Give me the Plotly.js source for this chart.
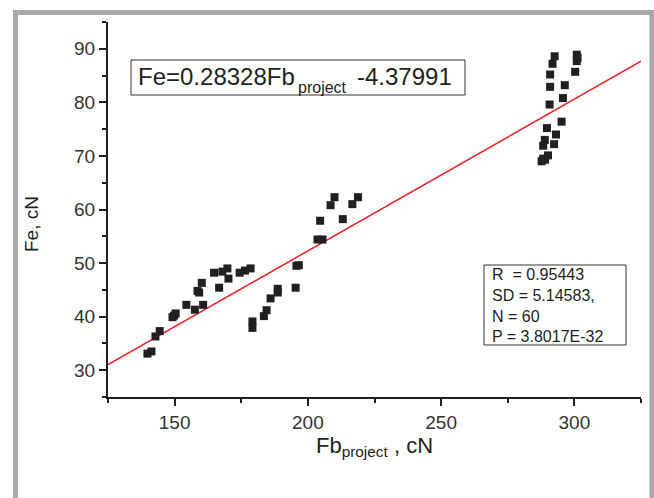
<!DOCTYPE html>
<html>
<head>
<meta charset="utf-8">
<script src="https://cdn.plot.ly/plotly-3.0.1.min.js"></script>
<style>
html,body{margin:0;padding:0;background:#fff;}
#chart{width:654px;height:498px;}
</style>
</head>
<body>
<div id="chart"></div>
<script>
// Measured data: Fb_project (cN) vs Fe (cN)
const fbProject = [
  139.8, 141.3, 142.8, 144.4, 149.2, 150.4, 154.4, 157.6, 160.7, 158.6,
  160.2, 164.8, 166.7, 167.9, 169.8, 170.2, 174.4, 176.4, 178.5,
  179.2, 179.2, 183.5, 184.5, 186.0, 188.7, 188.7, 195.4, 195.7, 196.6,
  203.6, 205.5, 204.6, 208.5, 210.0, 213.1, 216.7, 218.8,
  292.6, 291.8, 300.9, 300.9, 290.9, 300.3, 290.9, 296.4, 295.7,
  290.7, 295.2, 289.7, 293.1, 288.9, 288.3, 292.4, 290.1, 288.3, 287.7,
  149.8, 289.0, 301.2, 159.2
];
const fe = [
  33.1, 33.5, 36.3, 37.3, 39.9, 40.6, 42.2, 41.3, 42.2, 44.8,
  46.3, 48.2, 45.4, 48.4, 49.0, 47.1, 48.2, 48.6, 49.0,
  39.1, 37.9, 40.1, 41.2, 43.4, 45.2, 44.5, 45.4, 49.5, 49.6,
  54.4, 54.4, 57.9, 60.8, 62.3, 58.2, 61.0, 62.3,
  88.6, 87.2, 88.9, 87.7, 85.2, 85.7, 82.9, 83.2, 80.8,
  79.6, 76.4, 75.2, 74.0, 73.0, 71.9, 72.2, 70.1, 69.5, 69.0,
  40.2, 69.3, 88.3, 44.5
];
// Linear fit stated on the chart: Fe = 0.28328 Fb_project - 4.37991
const slope = 0.28328;
const intercept = -4.37991;
const xRange = [125, 325];
const yRange = [25, 95];
const fitX = xRange.slice();
const fitY = fitX.map(v => slope * v + intercept);

const eqMain = 'Fe=0.28328Fb';
const eqSub = 'project';
const eqConst = '-4.37991';
const statsLines = ['R  = 0.95443', 'SD = 5.14583,', 'N = 60', 'P = 3.8017E-32'];
const xTitle = 'Fb<sub>project</sub> , cN';
const yTitle = 'Fe, cN';

const axisColor = '#231f20';
const textColor = '#333333';
const fontFam = '"Liberation Sans", Arial, sans-serif';

// plot-area geometry in pixels (for placing the text boxes)
const M = {l: 108, r: 13, t: 22, b: 101};
const PW = 654 - M.l - M.r, PH = 498 - M.t - M.b;
const px = v => (v - M.l) / PW;
const py = v => (498 - M.b - v) / PH;

const data = [
  {
    x: fitX, y: fitY, type: 'scatter', mode: 'lines',
    line: {color: '#ed1c24', width: 1.5}, hoverinfo: 'skip', showlegend: false
  },
  {
    x: fbProject, y: fe, type: 'scatter', mode: 'markers',
    marker: {symbol: 'square', size: 8, color: '#231f20'}, showlegend: false
  }
];

const annotations = [
  {xref: 'paper', yref: 'paper', x: px(136), y: py(77), xanchor: 'left', yanchor: 'middle',
   text: eqMain, showarrow: false, font: {size: 24, color: '#231f20', family: fontFam}},
  {xref: 'paper', yref: 'paper', x: px(296), y: py(87), xanchor: 'left', yanchor: 'middle',
   text: eqSub, showarrow: false, font: {size: 16, color: '#231f20', family: fontFam}},
  {xref: 'paper', yref: 'paper', x: px(355), y: py(77), xanchor: 'left', yanchor: 'middle',
   text: eqConst, showarrow: false, font: {size: 24, color: '#231f20', family: fontFam}},
  {xref: 'paper', yref: 'paper', x: px(490), y: py(305), xanchor: 'left', yanchor: 'middle',
   text: statsLines.join('<br>'), align: 'left', showarrow: false,
   font: {size: 16, color: '#231f20', family: fontFam}},
  {xref: 'paper', yref: 'paper', x: px(32), y: py(224), xanchor: 'center', yanchor: 'middle',
   text: yTitle, textangle: -90, showarrow: false,
   font: {size: 19, color: '#231f20', family: fontFam}}
];

const layout = {
  width: 654, height: 498,
  margin: M,
  paper_bgcolor: '#ffffff', plot_bgcolor: '#ffffff',
  font: {family: fontFam, color: textColor, size: 16},
  xaxis: {
    range: xRange, showgrid: false, zeroline: false,
    showline: true, linecolor: axisColor, linewidth: 2,
    ticks: 'outside', ticklen: 7, tickwidth: 2, tickcolor: axisColor,
    tick0: 0, dtick: 50,
    minor: {ticks: 'outside', ticklen: 4, tickwidth: 2, tickcolor: axisColor, dtick: 25, tick0: 0, showgrid: false},
    tickfont: {size: 19, color: textColor, family: fontFam},
    title: {text: xTitle, font: {size: 22, color: '#231f20', family: fontFam}, standoff: 1}
  },
  yaxis: {
    range: yRange, showgrid: false, zeroline: false,
    showline: true, linecolor: axisColor, linewidth: 2,
    ticks: 'outside', ticklen: 7, tickwidth: 2, tickcolor: axisColor,
    tick0: 0, dtick: 10,
    minor: {ticks: 'outside', ticklen: 4, tickwidth: 2, tickcolor: axisColor, dtick: 5, tick0: 0, showgrid: false},
    tickfont: {size: 19, color: textColor, family: fontFam}
  },
  annotations: annotations,
  shapes: [
    // equation box and statistics box
    {type: 'rect', xref: 'paper', yref: 'paper', x0: px(131), x1: px(465), y0: py(95), y1: py(60), line: {color: '#333333', width: 1}},
    {type: 'rect', xref: 'paper', yref: 'paper', x0: px(484), x1: px(626), y0: py(345), y1: py(265), line: {color: '#333333', width: 1}},
    // grey outer frame
    {type: 'line', xref: 'paper', yref: 'paper', x0: px(15.5), x1: px(15.5), y0: py(10), y1: py(520), line: {color: '#a7a9ac', width: 5}},
    {type: 'line', xref: 'paper', yref: 'paper', x0: px(13), x1: px(654), y0: py(12.5), y1: py(12.5), line: {color: '#a7a9ac', width: 5}},
    {type: 'line', xref: 'paper', yref: 'paper', x0: px(652), x1: px(652), y0: py(10), y1: py(520), line: {color: '#a7a9ac', width: 5}}
  ]
};

Plotly.newPlot('chart', data, layout, {displayModeBar: false, staticPlot: true});
</script>
</body>
</html>
